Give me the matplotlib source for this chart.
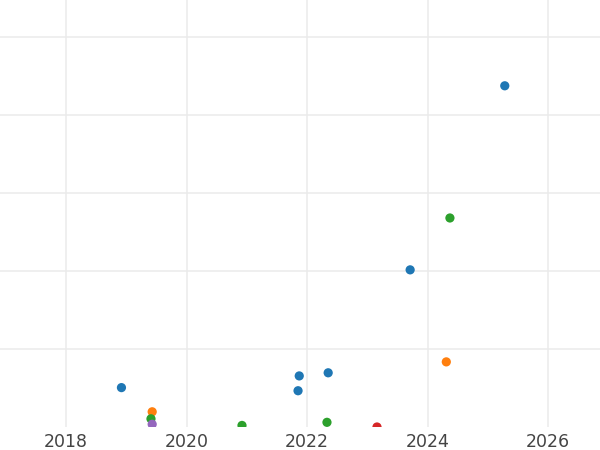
import matplotlib
matplotlib.use("Agg")
import matplotlib.pyplot as plt
import numpy as np

# data (decimal years, values)
dates = [2025.28, 2024.37, 2023.71, 2024.31, 2018.92, 2021.87, 2021.85,
         2022.35, 2019.43, 2019.41, 2019.43, 2020.92, 2022.33, 2023.16]
values = [87.5, 53.6, 40.3, 16.7, 10.1, 13.1, 9.3,
          13.9, 3.9, 2.1, 0.7, 0.4, 1.2, 0.0]
colors = ["#1f77b4", "#2ca02c", "#1f77b4", "#ff7f0e", "#1f77b4", "#1f77b4", "#1f77b4",
          "#1f77b4", "#ff7f0e", "#2ca02c", "#9467bd", "#2ca02c", "#2ca02c", "#d62728"]

x_ticks = [2018, 2020, 2022, 2024, 2026]
y_ticks = [20, 40, 60, 80, 100]

fig = plt.figure(figsize=(6, 4.5), dpi=100)
ax = fig.add_axes([0, 23 / 450, 1, 427 / 450])

ax.scatter(dates, values, c=colors, s=44, linewidths=0, zorder=3)

ax.set_xlim(2016.905, 2026.86)
ax.set_ylim(0, 109.5)
ax.set_xticks(x_ticks)
ax.set_xticklabels([str(t) for t in x_ticks])
ax.set_yticks(y_ticks)
ax.set_yticklabels([])

ax.grid(True, color="#ebebeb", linewidth=1.1, zorder=0)
ax.set_axisbelow(True)
for s in ax.spines.values():
    s.set_visible(False)
ax.tick_params(axis="both", length=0)
ax.tick_params(axis="x", labelsize=12.5, labelcolor="#444444", pad=4)

fig.savefig("out.png", dpi=100)
